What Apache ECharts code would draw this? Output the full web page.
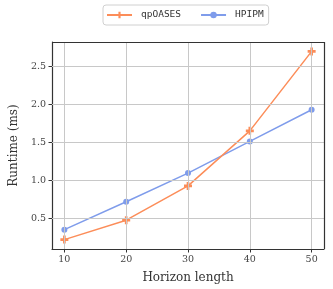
<!DOCTYPE html>
<html><head><meta charset="utf-8">
<script src="https://cdn.jsdelivr.net/npm/echarts@6/dist/echarts.min.js"></script>
<style>html,body{margin:0;padding:0;background:#fff}#c{width:333px;height:289px}</style>
</head><body><div id="c"></div>
<script>
const horizons = [10, 20, 30, 40, 50];
const qpOASES = [0.218, 0.474, 0.926, 1.652, 2.70];
const HPIPM = [0.349, 0.717, 1.095, 1.513, 1.93];
const yTicks = [0.5, 1.0, 1.5, 2.0, 2.5];
const xTicks = [10, 20, 30, 40, 50];

const serif = "'DejaVu Serif', serif";
const mono = "'DejaVu Sans Mono', monospace";
const plusPath = 'path://M-1,-3L1,-3L1,-1L3,-1L3,1L1,1L1,3L-1,3L-1,1L-3,1L-3,-1L-1,-1Z';

const chart = echarts.init(document.getElementById('c'), null, {renderer: 'canvas'});
chart.setOption({
  animation: false,
  legend: {
    top: 5, left: 103,
    padding: [5, 5, 5, 3],
    itemGap: 19,
    itemWidth: 25, itemHeight: 8,
    borderColor: '#d0d0d0', borderWidth: 1, borderRadius: 3,
    textStyle: {fontFamily: mono, fontSize: 9.5, color: '#333', padding: [0, 0, 0, 4]},
    data: ['qpOASES', 'HPIPM']
  },
  grid: {left: 42, right: 9, top: 42, bottom: 37, containLabel: false},
  xAxis: {
    type: 'value', min: 8, max: 52,
    name: 'Horizon length', nameLocation: 'middle', nameGap: 23,
    nameTextStyle: {fontFamily: serif, fontSize: 12, color: '#333'},
    axisLine: {show: true, onZero: false, lineStyle: {color: '#333', width: 1.2}},
    axisTick: {show: true, length: 3.5, customValues: xTicks, lineStyle: {color: '#333'}},
    axisLabel: {customValues: xTicks, fontFamily: serif, fontSize: 9.5, color: '#444', margin: 6},
    splitLine: {show: false}
  },
  yAxis: {
    type: 'value', min: 0.094, max: 2.824,
    name: 'Runtime (ms)', nameLocation: 'middle', nameGap: 24,
    nameTextStyle: {fontFamily: serif, fontSize: 12, color: '#333'},
    axisLine: {show: true, onZero: false, lineStyle: {color: '#333', width: 1.2}},
    axisTick: {show: true, length: 3.5, customValues: yTicks, lineStyle: {color: '#333'}},
    axisLabel: {customValues: yTicks, fontFamily: serif, fontSize: 9.5, color: '#444', margin: 6,
      formatter: v => v.toFixed(1)},
    splitLine: {show: false}
  },
  series: [
    {
      name: 'qpOASES', type: 'line', data: horizons.map((h, i) => [h, qpOASES[i]]),
      color: '#fc8d59', symbol: plusPath, symbolSize: 8, showAllSymbol: true,
      lineStyle: {width: 1.5}, z: 3
    },
    {
      name: 'HPIPM', type: 'line', data: horizons.map((h, i) => [h, HPIPM[i]]),
      color: '#7f9ceb', symbol: 'circle', symbolSize: 6, showAllSymbol: true,
      lineStyle: {width: 1.5}, z: 2
    },
    {
      name: 'grid', type: 'line', data: [], silent: true, z: 1,
      markLine: {
        silent: true, symbol: 'none', label: {show: false},
        lineStyle: {color: '#c8c8c8', width: 1, type: 'solid'},
        animation: false,
        data: yTicks.map(v => ({yAxis: v})).concat(xTicks.map(v => ({xAxis: v})))
      }
    },
    {
      name: 'frame', type: 'line', data: [], silent: true, z: 4,
      markLine: {
        silent: true, symbol: 'none', label: {show: false},
        lineStyle: {color: '#333', width: 1.2, type: 'solid'},
        animation: false,
        data: [{yAxis: 2.824}, {xAxis: 52}]
      }
    }
  ]
});
</script></body></html>
